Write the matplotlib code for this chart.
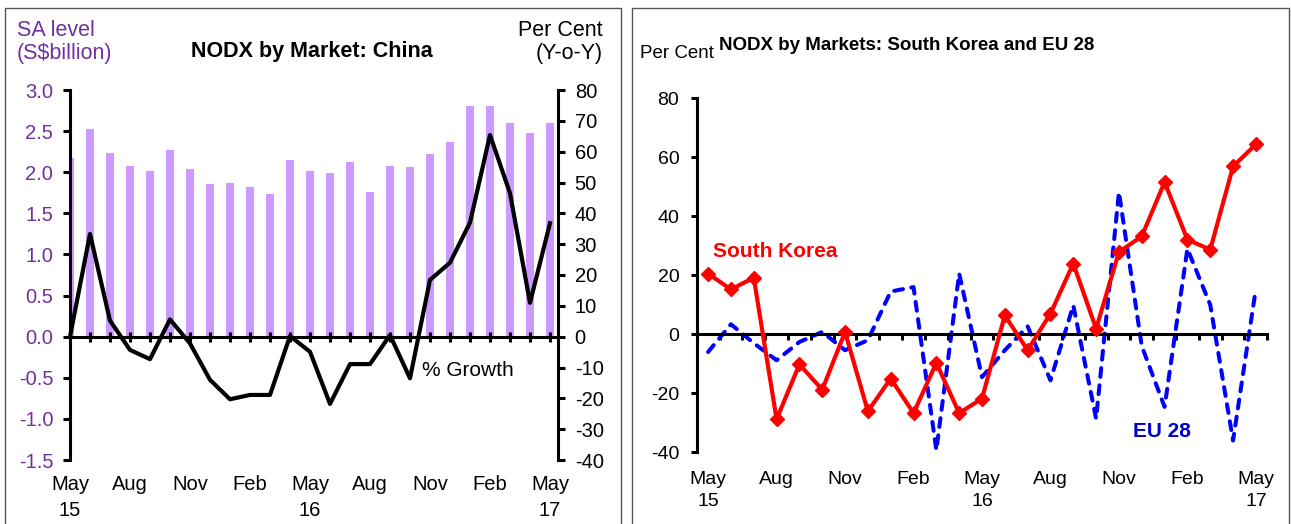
import matplotlib
matplotlib.use('Agg')
import matplotlib.pyplot as plt
from matplotlib.transforms import blended_transform_factory
from matplotlib.lines import Line2D
from matplotlib import font_manager

plt.rcParams['font.family'] = ['Liberation Sans', 'DejaVu Sans']
plt.rcParams['axes.unicode_minus'] = False

# narrow face for the right-hand panel headings, if available
names = {f.name for f in font_manager.fontManager.ttflist}
narrow = ['Liberation Sans Narrow', 'Liberation Sans'] if 'Liberation Sans Narrow' in names else ['Liberation Sans']
narrow_size = 15.5 if 'Liberation Sans Narrow' in names else 13.5

# Monthly categories, May 2015 to May 2017
months = list(range(25))
tick_pos = [0, 3, 6, 9, 12, 15, 18, 21, 24]
month_labels = ['May', 'Aug', 'Nov', 'Feb', 'May', 'Aug', 'Nov', 'Feb', 'May']
year_labels = ['15', '', '', '', '16', '', '', '', '17']

# China: SA level (S$bn) and YoY growth (%)
china_level = [2.17, 2.52, 2.23, 2.08, 2.02, 2.27, 2.04, 1.86, 1.87, 1.82, 1.74, 2.15, 2.01,
               1.99, 2.13, 1.76, 2.08, 2.06, 2.22, 2.37, 2.80, 2.80, 2.60, 2.48, 2.60]
china_growth = [0.0, 33.3, 5.2, -4.3, -7.3, 5.6, -2.2, -14.0, -20.3, -18.9, -18.9, 0.2, -4.9,
                -21.8, -8.9, -8.9, 0.5, -13.5, 18.4, 24.0, 37.0, 65.4, 46.5, 11.0, 36.8]

# South Korea and EU 28 YoY growth (%)
korea_growth = [20.6, 15.2, 19.2, -28.8, -10.2, -18.8, 0.8, -26.1, -15.0, -26.7, -9.7, -26.7, -21.8,
                6.4, -5.4, 7.0, 24.0, 1.9, 27.9, 33.2, 51.6, 32.1, 28.7, 56.9, 64.4]
eu_growth = [-6.0, 3.4, -3.0, -8.8, -2.6, 0.8, -5.4, -2.0, 14.5, 16.0, -39.3, 20.6, -14.5,
             -5.4, 2.7, -15.6, 9.8, -28.6, 48.2, -4.0, -24.6, 29.0, 10.0, -36.0, 15.5]

W, H = 1291, 524
fig = plt.figure(figsize=(W / 100, H / 100), dpi=100)


def rect(x0, y0, x1, y1):
    return [x0 / W, 1 - y1 / H, (x1 - x0) / W, (y1 - y0) / H]


def fy(y):
    return 1 - y / H


purple = '#7030A0'
lw_axis = 2.2

# panel frames
fig.add_artist(Line2D([5 / W, 5 / W, 620.7 / W, 620.7 / W], [0, fy(8), fy(8), 0],
                      color='#555555', lw=1.0))
fig.add_artist(Line2D([631.7 / W, 631.7 / W, 1289 / W, 1289 / W], [0, fy(8), fy(8), 0],
                      color='#555555', lw=1.0))

# ---------------- China panel ----------------
ax = fig.add_axes(rect(70, 90, 558, 460))
ax.bar(months, china_level, width=0.37, color='#CC99FF', zorder=1)
ax.set_xlim(0, 24.4)
ax.set_ylim(-1.5, 3.0)
ax.set_yticks([-1.5, -1.0, -0.5, 0.0, 0.5, 1.0, 1.5, 2.0, 2.5, 3.0])
ax.set_yticklabels([f'{v:.1f}' for v in ax.get_yticks()])
for s in ['top', 'right']:
    ax.spines[s].set_visible(False)
ax.spines['bottom'].set_position(('data', 0))
ax.spines['left'].set_linewidth(lw_axis)
ax.spines['bottom'].set_linewidth(lw_axis)
ax.set_xticks(months)
ax.set_xticklabels([])
ax.tick_params(axis='x', direction='inout', length=7, width=lw_axis)
ax.tick_params(axis='y', direction='out', length=5, width=lw_axis, pad=7,
               labelsize=14.5, labelcolor=purple)

ax2 = ax.twinx()
ax2.plot(months, china_growth, color='black', lw=3, zorder=3, clip_on=False)
ax2.set_ylim(-40, 80)
ax2.set_yticks(range(-40, 81, 10))
for s in ['top', 'left', 'bottom']:
    ax2.spines[s].set_visible(False)
ax2.spines['right'].set_linewidth(lw_axis)
ax2.tick_params(axis='y', direction='out', length=5, width=lw_axis, pad=7, labelsize=14.5)
ax2.text(17.6, -11.1, '% Growth', fontsize=15, ha='left', va='center')

tr = blended_transform_factory(ax.transData, fig.transFigure)
for p, m, yr in zip(tick_pos, month_labels, year_labels):
    ax.text(p, fy(485), m, transform=tr, ha='center', va='center', fontsize=14.5)
    if yr:
        ax.text(p, fy(510), yr, transform=tr, ha='center', va='center', fontsize=14.5)

fig.text(17 / W, fy(30), 'SA level', color=purple, fontsize=15.5, ha='left', va='center')
fig.text(17 / W, fy(53), '(S$billion)', color=purple, fontsize=15.5, ha='left', va='center')
fig.text(311.5 / W, fy(52), 'NODX by Market: China', fontsize=15.5, fontweight='bold',
         ha='center', va='center')
fig.text(603 / W, fy(31), 'Per Cent', fontsize=15.5, ha='right', va='center')
fig.text(603 / W, fy(53), '(Y-o-Y)', fontsize=15.5, ha='right', va='center')

# ---------------- South Korea / EU 28 panel ----------------
bx = fig.add_axes(rect(696.7, 98.3, 1267.3, 452.3))
bx.plot(months, eu_growth, color='#0000FF', lw=2.9, dashes=(2.2, 2.1),
        dash_capstyle='round', zorder=2)
bx.plot(months, korea_growth, color='#FF0000', lw=3, marker='D', markersize=7, zorder=3)
bx.set_xlim(-0.5, 24.5)
bx.set_ylim(-40, 80)
bx.set_yticks(range(-40, 81, 20))
for s in ['top', 'right']:
    bx.spines[s].set_visible(False)
bx.spines['bottom'].set_position(('data', 0))
bx.spines['left'].set_linewidth(lw_axis)
bx.spines['bottom'].set_linewidth(lw_axis)
bx.set_xticks([i - 0.5 for i in range(26)])
bx.set_xticklabels([])
bx.tick_params(axis='x', direction='out', length=4.5, width=lw_axis)
bx.tick_params(axis='y', direction='out', length=4.5, width=lw_axis, pad=8, labelsize=14)

bx.text(0.2, 28.2, 'South Korea', color='#FF0000', fontsize=15, fontweight='bold',
        ha='left', va='center')
bx.text(18.6, -33.1, 'EU 28', color='#0000CC', fontsize=15, fontweight='bold',
        ha='left', va='center')

tr2 = blended_transform_factory(bx.transData, fig.transFigure)
for p, m, yr in zip(tick_pos, month_labels, year_labels):
    bx.text(p, fy(479), m, transform=tr2, ha='center', va='center', fontsize=14)
    if yr:
        bx.text(p, fy(502), yr, transform=tr2, ha='center', va='center', fontsize=14)

fig.text(640 / W, fy(53), 'Per Cent', family=narrow, fontsize=narrow_size, ha='left', va='center')
fig.text(907 / W, fy(45), 'NODX by Markets: South Korea and EU 28', family=narrow,
         fontsize=narrow_size, fontweight='bold', ha='center', va='center')

fig.savefig('out.png', dpi=100)
